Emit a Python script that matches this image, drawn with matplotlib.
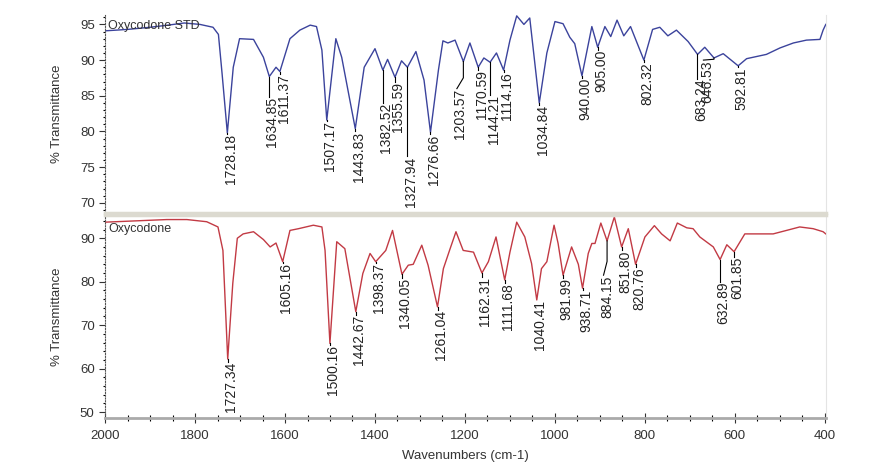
import numpy as np
import matplotlib
matplotlib.use("Agg")
import matplotlib.pyplot as plt
from matplotlib.ticker import MultipleLocator
import matplotlib.transforms as mtransforms

plt.rcParams['font.family'] = ['Liberation Sans', 'DejaVu Sans']

# Oxycodone STD spectrum (wavenumber, %T)
std_wn = [2000, 1950, 1900, 1860, 1824, 1789, 1760, 1748, 1740, 1728.18,
          1715, 1701, 1670, 1648, 1634.85, 1620, 1611.37, 1589, 1567, 1544,
          1530, 1518, 1507.17, 1487, 1474, 1443.83, 1424, 1400, 1382.52, 1372,
          1355.59, 1341, 1327.94, 1309, 1291, 1276.66, 1259, 1249, 1238, 1222,
          1203.57, 1189, 1170.59, 1158, 1144.21, 1130, 1114.16, 1100, 1085, 1069,
          1056, 1034.84, 1018, 1000, 982, 967, 956, 940, 918, 905,
          889, 876, 862, 847, 832, 802.32, 783, 767, 749, 730,
          704, 683, 667, 646.53, 626, 592.81, 574, 530, 500, 470,
          441, 411, 404, 398]
std_t = [94.1, 94.3, 94.6, 94.9, 95.2, 95.0, 94.6, 93.6, 88.2, 79.8,
         89.0, 93.0, 92.9, 90.4, 87.7, 89.0, 88.4, 93.0, 94.2, 94.9,
         94.7, 91.4, 81.6, 93.0, 90.4, 80.4, 89.0, 91.6, 88.6, 90.1,
         87.6, 89.9, 89.0, 91.2, 87.2, 79.9, 88.6, 92.7, 92.4, 92.8,
         89.8, 92.4, 89.0, 90.3, 89.7, 91.0, 88.6, 92.8, 96.2, 95.0,
         95.9, 84.0, 91.0, 95.4, 95.1, 93.2, 92.3, 87.8, 94.7, 91.8,
         94.7, 93.3, 95.6, 93.4, 94.7, 90.0, 94.3, 94.6, 93.4, 94.2,
         92.6, 90.8, 91.8, 90.3, 90.9, 89.2, 90.2, 90.8, 91.7, 92.4,
         92.8, 92.9, 94.2, 95.0]

# Oxycodone sample spectrum
smp_wn = [2000, 1863, 1818, 1774, 1749, 1738, 1727.34, 1716, 1706, 1693,
          1670, 1648, 1633, 1620, 1605.16, 1589, 1570, 1537, 1518, 1511,
          1500.16, 1485, 1467, 1442.67, 1427, 1411, 1398.37, 1376, 1361, 1340.05,
          1326, 1315, 1296, 1282, 1261.04, 1248, 1233, 1220, 1204, 1181,
          1162.31, 1148, 1131, 1111.68, 1100, 1085, 1067, 1052, 1040.41, 1030,
          1018, 1002, 993, 981.99, 963, 948, 938.71, 926, 918, 911,
          898, 884.15, 868, 851.80, 837, 820.76, 800, 779, 763, 744,
          728, 707, 693, 678, 648, 632.89, 618, 601.85, 578, 544,
          515, 478, 456, 426, 404, 398]
smp_t = [93.7, 94.3, 94.3, 93.8, 92.6, 87.2, 62.2, 79.7, 90.0, 91.0,
         91.5, 89.7, 88.0, 88.9, 84.6, 91.8, 92.2, 93.0, 92.6, 87.2,
         65.8, 89.2, 87.6, 73.1, 81.9, 86.5, 84.6, 87.2, 91.8, 81.7,
         83.8, 84.0, 88.4, 83.8, 74.2, 83.0, 87.6, 91.5, 87.2, 86.8,
         82.0, 84.6, 90.3, 80.4, 86.8, 93.7, 90.3, 84.2, 75.8, 83.0,
         84.6, 93.0, 88.8, 81.5, 88.0, 84.0, 78.5, 86.5, 88.8, 88.8,
         93.5, 89.4, 94.9, 88.0, 92.2, 84.0, 90.3, 92.9, 91.0, 89.4,
         93.5, 92.4, 92.2, 90.3, 88.0, 85.1, 88.5, 86.9, 91.0, 91.0,
         91.0, 92.0, 92.6, 92.2, 91.5, 91.0]

# peak labels
std_peaks = ['1728.18', '1634.85', '1611.37', '1507.17', '1443.83', '1382.52',
             '1355.59', '1327.94', '1276.66', '1203.57', '1170.59', '1144.21',
             '1114.16', '1034.84', '940.00', '905.00', '802.32', '683.24',
             '646.53', '592.81']
smp_peaks = ['1727.34', '1605.16', '1500.16', '1442.67', '1398.37', '1340.05',
             '1261.04', '1162.31', '1111.68', '1040.41', '981.99', '938.71',
             '884.15', '851.80', '820.76', '632.89', '601.85']

# label layout: top of text (%T) and text x (wavenumber)
std_lab_top = [79.6, 84.9, 88.0, 81.4, 80.0, 84.0, 87.0, 76.5, 79.6, 86.0,
               88.6, 85.1, 88.3, 83.7, 87.5, 91.4, 89.7, 87.4, 90.0, 89.0]
std_lab_x = [1728.18, 1637, 1609, 1507.17, 1443.83, 1382.52, 1355.59,
             1327.94, 1276.66, 1218, 1170.59, 1144.21, 1114.16, 1034.84,
             940.0, 905.0, 802.32, 683.24, 670, 592.81]
smp_lab_top = [61.6, 84.2, 65.5, 72.3, 84.2, 80.8, 73.5, 81.1, 79.6, 75.8,
               80.8, 78.1, 81.5, 87.2, 83.4, 80.0, 85.7]
smp_lab_x = [1727.34, 1605.16, 1500.16, 1442.67, 1398.37, 1340.05, 1261.04,
             1162.31, 1111.68, 1040.41, 981.99, 938.71, 892, 851.80, 820.76,
             632.89, 601.85]

blue = '#3b439c'
red = '#c23a44'

fig = plt.figure(figsize=(8.71, 4.73), dpi=100)
ax1 = fig.add_axes([0.1206, 0.55, 0.8275, 0.418])
ax2 = fig.add_axes([0.1206, 0.116, 0.8275, 0.429])


def style(ax):
    ax.set_xlim(2000, 398)
    ax.spines['left'].set_linestyle((0, (1, 1.5)))
    ax.spines['left'].set_color('#555555')
    ax.spines['right'].set_color('#e4e4e4')
    ax.tick_params(axis='y', direction='out', length=4, width=0.8,
                   labelsize=9.5, colors='#333333')
    ax.tick_params(axis='y', which='minor', length=1.5, width=0.8)
    ax.set_ylabel('% Transmittance', fontsize=9.5, color='#333333', labelpad=12)


style(ax1)
ax1.set_ylim(68.6, 96.3)
ax1.yaxis.set_major_locator(MultipleLocator(5))
ax1.yaxis.set_minor_locator(MultipleLocator(1))
ax1.spines['top'].set_visible(False)
ax1.spines['bottom'].set_color('#dcdad0')
ax1.spines['bottom'].set_linewidth(2.5)
ax1.set_xticks([])
ax1.set_yticks([70, 75, 80, 85, 90, 95])

style(ax2)
ax2.set_ylim(48.6, 95.3)
ax2.yaxis.set_major_locator(MultipleLocator(10))
ax2.yaxis.set_minor_locator(MultipleLocator(2))
ax2.spines['top'].set_color('#dcdad0')
ax2.spines['top'].set_linewidth(2.5)
ax2.spines['bottom'].set_color('#aaaaaa')
ax2.spines['bottom'].set_linewidth(2)
ax2.xaxis.set_major_locator(MultipleLocator(200))
ax2.xaxis.set_minor_locator(MultipleLocator(50))
ax2.tick_params(axis='x', which='major', direction='inout', length=7,
                width=0.8, labelsize=9.5, colors='#333333', pad=5)
ax2.tick_params(axis='x', which='minor', direction='inout', length=4,
                width=0.8)
ax2.set_xlabel('Wavenumbers (cm-1)', fontsize=9.5, color='#333333', labelpad=6)

ax1.plot(std_wn, std_t, color=blue, lw=1.0)
ax2.plot(smp_wn, smp_t, color=red, lw=1.0)

ax1.text(1993, 94.8, 'Oxycodone STD', fontsize=9, color='#333333', va='center')
ax2.text(1993, 92.2, 'Oxycodone', fontsize=9, color='#333333', va='center')


def label_peaks(ax, wn, t, peaks, tops, xs):
    wn_asc = np.array(wn)[::-1]
    t_asc = np.array(t)[::-1]
    shift = mtransforms.ScaledTranslation(2.5 / 72, 0, fig.dpi_scale_trans)
    for lab, top, tx in zip(peaks, tops, xs):
        pw = float(lab)
        pt = np.interp(pw, wn_asc, t_asc)
        ax.plot([pw, pw], [pt, top], color='black', lw=0.8)
        if abs(tx - pw) > 5:
            mid = pt - (pt - top) * 0.6
            ax.lines[-1].set_data([pw, pw, tx], [pt, mid, top])
        ax.text(tx, top, lab, rotation=90, ha='center', va='top', fontsize=10,
                color='#222222', transform=ax.transData + shift)


label_peaks(ax1, std_wn, std_t, std_peaks, std_lab_top, std_lab_x)
label_peaks(ax2, smp_wn, smp_t, smp_peaks, smp_lab_top, smp_lab_x)

fig.savefig('out.png', dpi=100)
